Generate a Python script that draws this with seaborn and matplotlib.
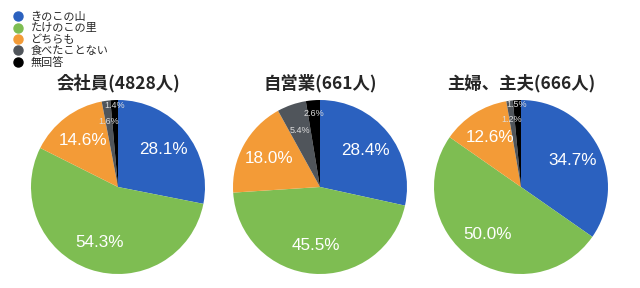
import matplotlib
matplotlib.use("Agg")
import matplotlib.pyplot as plt
from matplotlib.lines import Line2D
import seaborn as sns
import numpy as np

# ---- data ----
categories = ["きのこの山", "たけのこの里", "どちらも", "食べたことない", "無回答"]
groups = ["会社員(4828人)", "自営業(661人)", "主婦、主夫(666人)"]
kaishain = [28.1, 54.3, 14.6, 1.6, 1.4]
jieigyo = [28.4, 45.5, 18.0, 5.4, 2.6]
shufu = [34.7, 50.0, 12.6, 1.2, 1.5]
series = [kaishain, jieigyo, shufu]

# ---- style ----
sns.set_theme(style="white")
plt.rcParams['font.family'] = ['Noto Sans CJK JP', 'DejaVu Sans']
num_font = ['Liberation Sans', 'DejaVu Sans']
colors = sns.color_palette(["#2b61bf", "#7ebd52", "#f39b37", "#50555b", "#000000"])

fig = plt.figure(figsize=(6.4, 2.88), dpi=100)
W, H = 640, 288
centers_x = [118, 320, 521]
cy = 187
r = 87
label_r = [
    [0.67, 0.67, 0.67, 0.76, 0.94],
    [0.67, 0.67, 0.67, 0.69, 0.85],
    [0.67, 0.67, 0.67, 0.78, 0.95],
]

for i, (cx, vals, title) in enumerate(zip(centers_x, series, groups)):
    ax = fig.add_axes([(cx - r) / W, (H - cy - r) / H, 2 * r / W, 2 * r / H])
    wedges, _ = ax.pie(vals, colors=colors, startangle=90, counterclock=False,
                       radius=1.0, wedgeprops=dict(linewidth=0))
    for j, (w, v) in enumerate(zip(wedges, vals)):
        ang = np.deg2rad((w.theta1 + w.theta2) / 2)
        rr = label_r[i][j]
        x, y = rr * np.cos(ang), rr * np.sin(ang)
        if v >= 10:
            ax.text(x, y, f"{v:.1f}%", ha="center", va="center",
                    color="white", fontsize=12.3, family=num_font)
        else:
            ax.text(x, y, f"{v:.1f}%", ha="center", va="center",
                    color="#dcdcdc", fontsize=6.5, family=num_font)
    ax.set_xlim(-1, 1)
    ax.set_ylim(-1, 1)
    ax.set_aspect("equal")
    ax.set_title(title, fontsize=12.5, fontweight="bold", pad=8)

handles = [Line2D([0], [0], marker="o", linestyle="", markersize=6.5,
                  markerfacecolor=c, markeredgecolor=c) for c in colors]
fig.legend(handles, categories, loc="upper left", bbox_to_anchor=(0.006, 0.985),
           frameon=False, fontsize=8, handletextpad=0.5, labelspacing=0.08,
           borderaxespad=0.3, handlelength=1.2)

fig.savefig("out.png", dpi=100)
